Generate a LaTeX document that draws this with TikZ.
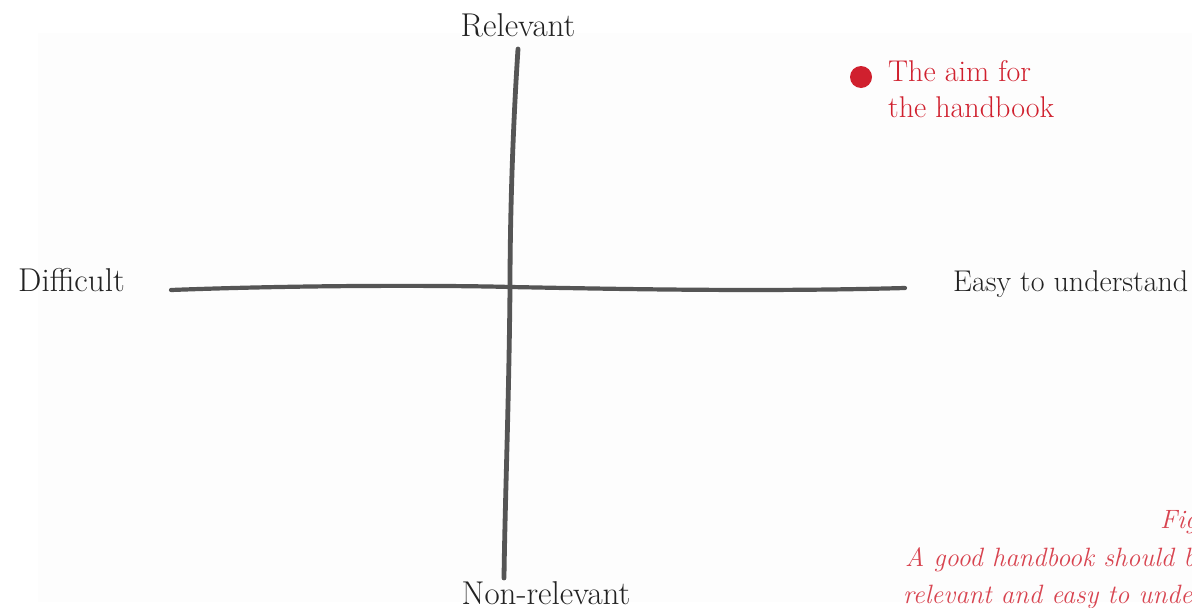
\documentclass[tikz,border=0pt]{standalone}
\usepackage{fontspec}
\definecolor{axisgray}{HTML}{555555}
\definecolor{labelblack}{HTML}{222222}
\definecolor{aimred}{HTML}{D0202E}
\definecolor{capred}{HTML}{D84450}
\definecolor{bgpanel}{HTML}{FDFDFD}
\tikzset{
  axislabel/.style={font=\fontsize{33}{38}\selectfont, text=labelblack, inner sep=0pt},
  axisline/.style={draw=axisgray, line width=4.2pt, line cap=round},
  aimtext/.style={font=\fontsize{30}{36}\selectfont, text=aimred, inner sep=0pt, align=left},
  captext/.style={font=\fontsize{26.5}{37}\selectfont\itshape, text=capred, inner sep=0pt},
}
\begin{document}
\begin{tikzpicture}[x=1pt,y=-1pt]
\useasboundingbox (0,0) rectangle (1192,608);
\clip (0,0) rectangle (1192,608);
\fill[bgpanel] (38,33) rectangle (1192,602);
% axes
\coordinate (hl) at (171,290);
\coordinate (hr) at (905,288);
\coordinate (vt) at (518,49);
\coordinate (vb) at (504,578);
\draw[axisline] (hl) .. controls (330,284) and (480,286) .. (510,287)
  .. controls (620,289) and (760,292) .. (hr);
\draw[axisline, line width=4.8pt] (vt) .. controls (512,140) and (510,230) .. (510,287)
  .. controls (509,400) and (505,500) .. (vb);
% labels
\node[axislabel, anchor=base] (rel) at (518,36) {Relevant};
\node[axislabel, anchor=base] (nrel) at (546,604) {Non-relevant};
\node[axislabel, anchor=base west] (diff) at (18,291) {Difficult};
\node[axislabel, anchor=base west, font=\fontsize{30}{34}\selectfont] (easy) at (953,291) {Easy to understand};
% aim
\fill[aimred] (861,77) circle (11) coordinate (dot);
\node[aimtext, anchor=base west] (aim1) at (888,81) {The aim for};
\node[aimtext, anchor=base west] (aim2) at (888,117) {the handbook};
% caption
\node[captext, anchor=base west] (cap0) at (1160,528) {Figure};
\node[captext, anchor=base west] (cap1) at (905,566) {A good handbook should be};
\node[captext, anchor=base west] (cap2) at (903,603) {relevant and easy to understand};
\end{tikzpicture}
\end{document}
